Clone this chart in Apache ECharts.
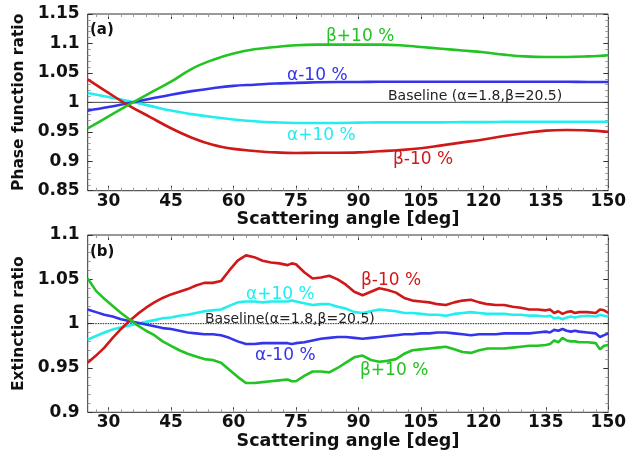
<!DOCTYPE html>
<html>
<head>
<meta charset="utf-8">
<script src="https://cdn.jsdelivr.net/npm/echarts@6/dist/echarts.min.js"></script>
<style>html,body{margin:0;padding:0;background:#fff;}#chart{width:638px;height:454px;}</style>
</head>
<body>
<div id="chart"></div>
<script>
// ---------- Data ----------
const xMajorTicks = [30, 45, 60, 75, 90, 105, 120, 135, 150];
const xMinorTicks = [27, 30, 33, 36, 39, 42, 45, 48, 51, 54, 57, 60, 63, 66, 69, 72, 75, 78, 81, 84, 87, 90, 93, 96, 99, 102, 105, 108, 111, 114, 117, 120, 123, 126, 129, 132, 135, 138, 141, 144, 147, 150];

// Panel (a): phase function ratio
const anglesA = [25, 30, 35, 40, 45, 50, 55, 60, 65, 70, 75, 80, 85, 90, 95, 100, 105, 110, 115, 120, 125, 130, 135, 140, 145, 150];
const phaseBetaPlus   = [0.956, 0.976, 0.9965, 1.016, 1.035, 1.057, 1.072, 1.083, 1.090, 1.094, 1.097, 1.098, 1.098, 1.098, 1.098, 1.097, 1.094, 1.091, 1.088, 1.085, 1.081, 1.078, 1.077, 1.077, 1.078, 1.080];
const phaseAlphaMinus = [0.986, 0.992, 0.999, 1.006, 1.013, 1.019, 1.024, 1.028, 1.030, 1.032, 1.033, 1.034, 1.0345, 1.0345, 1.035, 1.035, 1.035, 1.035, 1.035, 1.035, 1.035, 1.035, 1.035, 1.035, 1.0345, 1.0345];
const phaseAlphaPlus  = [1.016, 1.009, 1.002, 0.994, 0.986, 0.980, 0.975, 0.971, 0.968, 0.966, 0.965, 0.965, 0.965, 0.9655, 0.966, 0.966, 0.966, 0.966, 0.9665, 0.9665, 0.967, 0.967, 0.967, 0.967, 0.967, 0.967];
const phaseBetaMinus  = [1.039, 1.016, 0.994, 0.975, 0.956, 0.940, 0.928, 0.921, 0.9175, 0.915, 0.914, 0.9145, 0.9145, 0.915, 0.917, 0.919, 0.922, 0.927, 0.932, 0.937, 0.943, 0.948, 0.952, 0.953, 0.9525, 0.950];

// Panel (b): extinction ratio
const anglesB = [25, 27, 29, 31, 33, 35, 37, 39, 41, 43, 45, 47, 49, 51, 53, 55, 57, 59, 61, 63, 65, 67, 69, 71, 73, 74, 75, 77, 79, 81, 83, 85, 87, 89, 91, 93, 95, 97, 99, 101, 103, 105, 107, 109, 111, 113, 115, 117, 119, 121, 123, 125, 127, 129, 131, 133, 135, 136, 137, 138, 139, 140, 141, 142, 143, 145, 147, 148, 149, 150];
const extBetaMinus  = [0.956, 0.964, 0.973, 0.984, 0.994, 1.003, 1.011, 1.018, 1.024, 1.029, 1.033, 1.036, 1.039, 1.043, 1.046, 1.046, 1.048, 1.060, 1.071, 1.077, 1.075, 1.071, 1.069, 1.068, 1.066, 1.068, 1.067, 1.058, 1.051, 1.052, 1.054, 1.050, 1.044, 1.036, 1.032, 1.036, 1.040, 1.038, 1.035, 1.029, 1.026, 1.025, 1.024, 1.022, 1.021, 1.024, 1.026, 1.027, 1.024, 1.022, 1.021, 1.021, 1.019, 1.018, 1.016, 1.016, 1.015, 1.016, 1.012, 1.014, 1.011, 1.013, 1.014, 1.012, 1.013, 1.013, 1.012, 1.016, 1.015, 1.012];
const extAlphaPlus  = [0.982, 0.986, 0.990, 0.9935, 0.996, 0.998, 1.000, 1.002, 1.004, 1.006, 1.007, 1.009, 1.010, 1.012, 1.014, 1.015, 1.016, 1.020, 1.024, 1.025, 1.025, 1.024, 1.025, 1.025, 1.025, 1.026, 1.025, 1.023, 1.021, 1.022, 1.022, 1.019, 1.017, 1.013, 1.012, 1.014, 1.016, 1.015, 1.014, 1.012, 1.012, 1.011, 1.010, 1.010, 1.009, 1.011, 1.012, 1.013, 1.012, 1.011, 1.011, 1.011, 1.010, 1.010, 1.009, 1.009, 1.008, 1.009, 1.006, 1.007, 1.005, 1.007, 1.008, 1.007, 1.008, 1.009, 1.008, 1.010, 1.009, 1.008];
const extAlphaMinus = [1.016, 1.013, 1.010, 1.008, 1.005, 1.003, 1.001, 0.999, 0.997, 0.995, 0.994, 0.992, 0.990, 0.989, 0.988, 0.988, 0.987, 0.984, 0.980, 0.977, 0.977, 0.978, 0.978, 0.978, 0.978, 0.977, 0.978, 0.979, 0.981, 0.983, 0.984, 0.985, 0.985, 0.984, 0.983, 0.984, 0.985, 0.986, 0.987, 0.988, 0.988, 0.989, 0.989, 0.990, 0.990, 0.989, 0.988, 0.987, 0.988, 0.988, 0.988, 0.989, 0.989, 0.989, 0.989, 0.990, 0.991, 0.990, 0.993, 0.992, 0.994, 0.992, 0.991, 0.992, 0.991, 0.990, 0.989, 0.985, 0.987, 0.989];
const extBetaPlus   = [1.051, 1.037, 1.028, 1.020, 1.012, 1.005, 0.998, 0.992, 0.987, 0.980, 0.975, 0.970, 0.966, 0.963, 0.960, 0.959, 0.956, 0.948, 0.940, 0.933, 0.933, 0.934, 0.935, 0.936, 0.937, 0.935, 0.935, 0.941, 0.946, 0.946, 0.945, 0.950, 0.956, 0.962, 0.964, 0.959, 0.957, 0.958, 0.960, 0.966, 0.970, 0.971, 0.972, 0.973, 0.974, 0.971, 0.968, 0.967, 0.970, 0.972, 0.972, 0.972, 0.973, 0.974, 0.975, 0.975, 0.976, 0.977, 0.981, 0.979, 0.984, 0.981, 0.980, 0.980, 0.979, 0.979, 0.978, 0.971, 0.975, 0.976];

const baselineX = [25, 150];
const baselineY = [1, 1];

// ---------- Styles ----------
const GREEN = '#22c322', BLUE = '#3434ec', CYAN = '#22eeee', RED = '#cf1818';
const FF = '"DejaVu Sans", "Liberation Sans", sans-serif';

function pairs(xs, ys) { return xs.map((x, i) => [x, ys[i]]); }

const chart = echarts.init(document.getElementById('chart'), null, { renderer: 'canvas' });

const grids = [
  { left: 87.7, top: 14, width: 520.6, height: 176.7, show: true, borderColor: '#333', borderWidth: 1, backgroundColor: 'transparent', outerBoundsMode: 'none', containLabel: false },
  { left: 87.7, top: 235, width: 520.6, height: 177.3, show: true, borderColor: '#333', borderWidth: 1, backgroundColor: 'transparent', outerBoundsMode: 'none', containLabel: false }
];

function xAxesFor(g) {
  const base = { type: 'value', gridIndex: g, min: 25, max: 150, splitLine: { show: false }, axisLine: { show: false } };
  return [
    Object.assign({}, base, {
      position: 'bottom',
      name: 'Scattering angle [deg]', nameLocation: 'middle', nameGap: 14,
      nameTextStyle: { fontFamily: FF, fontWeight: 'bold', fontSize: 17.5, color: '#111', verticalAlign: 'top' },
      axisTick: { show: true, inside: true, length: 5, customValues: xMajorTicks, lineStyle: { color: '#333', width: 1 } },
      axisLabel: { show: true, customValues: xMajorTicks, margin: 2, fontFamily: FF, fontWeight: 'bold', fontSize: 17, color: '#111' }
    }),
    Object.assign({}, base, {
      position: 'bottom',
      axisTick: { show: true, inside: true, length: 3, customValues: xMinorTicks, lineStyle: { color: '#999', width: 1 } },
      axisLabel: { show: false }
    }),
    Object.assign({}, base, {
      position: 'top',
      axisTick: { show: true, inside: true, length: 5, customValues: xMajorTicks, lineStyle: { color: '#333', width: 1 } },
      axisLabel: { show: false }
    }),
    Object.assign({}, base, {
      position: 'top',
      axisTick: { show: true, inside: true, length: 3, customValues: xMinorTicks, lineStyle: { color: '#999', width: 1 } },
      axisLabel: { show: false }
    })
  ];
}

function yAxesFor(g, min, max, name) {
  const base = {
    type: 'value', gridIndex: g, min: min, max: max, interval: 0.05,
    splitLine: { show: false }, axisLine: { show: false },
    axisTick: { show: true, inside: true, length: 5, lineStyle: { color: '#333', width: 1 } },
    minorTick: { show: true, splitNumber: 5, length: 3, lineStyle: { color: '#999', width: 1 } },
    minorSplitLine: { show: false }
  };
  return [
    Object.assign({}, base, {
      position: 'left',
      name: name, nameLocation: 'middle', nameGap: 53, nameRotate: 90,
      nameTextStyle: { fontFamily: FF, fontWeight: 'bold', fontSize: 15.5, color: '#111' },
      axisLabel: { show: true, margin: 8, fontFamily: FF, fontWeight: 'bold', fontSize: 17, color: '#111' }
    }),
    Object.assign({}, base, {
      position: 'right',
      axisLabel: { show: false }
    })
  ];
}

function lineSeries(xi, yi, data, color, smooth) {
  return {
    type: 'line', xAxisIndex: xi, yAxisIndex: yi, data: data, smooth: smooth,
    showSymbol: false, symbol: 'none', clip: true, animation: false,
    lineStyle: { color: color, width: 2.6 }, z: 3
  };
}

function txt(x, y, text, color, size, weight) {
  return {
    type: 'text', x: x, y: y, z: 100,
    style: { text: text, fill: color, font: (weight || 'normal') + ' ' + size + 'px ' + FF, textAlign: 'left', textVerticalAlign: 'middle' }
  };
}

const option = {
  animation: false,
  backgroundColor: '#fff',
  textStyle: { fontFamily: FF },
  grid: grids,
  xAxis: xAxesFor(0).concat(xAxesFor(1)),
  yAxis: yAxesFor(0, 0.85, 1.15, 'Phase function ratio').concat(yAxesFor(1, 0.9, 1.1, 'Extinction ratio')),
  series: [
    { type: 'line', xAxisIndex: 0, yAxisIndex: 0, data: pairs(baselineX, baselineY), showSymbol: false, symbol: 'none', lineStyle: { color: '#444', width: 1 }, z: 2 },
    lineSeries(0, 0, pairs(anglesA, phaseAlphaPlus), CYAN, 0.4),
    lineSeries(0, 0, pairs(anglesA, phaseAlphaMinus), BLUE, 0.4),
    lineSeries(0, 0, pairs(anglesA, phaseBetaMinus), RED, 0.4),
    lineSeries(0, 0, pairs(anglesA, phaseBetaPlus), GREEN, 0.4),

    { type: 'line', xAxisIndex: 4, yAxisIndex: 2, data: pairs(baselineX, baselineY), showSymbol: false, symbol: 'none', lineStyle: { color: '#222', width: 1, type: [1.5, 1] }, z: 2 },
    lineSeries(4, 2, pairs(anglesB, extAlphaPlus), CYAN, false),
    lineSeries(4, 2, pairs(anglesB, extAlphaMinus), BLUE, false),
    lineSeries(4, 2, pairs(anglesB, extBetaMinus), RED, false),
    lineSeries(4, 2, pairs(anglesB, extBetaPlus), GREEN, false)
  ],
  graphic: [
    txt(90, 30, '(a)', '#111', 15, 'bold'),
    txt(326, 37, 'β+10 %', GREEN, 17),
    txt(287, 75.5, 'α-10 %', BLUE, 17),
    txt(388, 96.5, 'Baseline (α=1.8,β=20.5)', '#222', 14),
    txt(287, 136, 'α+10 %', CYAN, 17),
    txt(393, 160, 'β-10 %', RED, 17),

    txt(90, 252, '(b)', '#111', 15, 'bold'),
    txt(361, 281, 'β-10 %', RED, 17),
    txt(246, 294.5, 'α+10 %', CYAN, 17),
    txt(205, 319.5, 'Baseline(α=1.8,β=20.5)', '#222', 14),
    txt(255, 356, 'α-10 %', BLUE, 17),
    txt(360, 371, 'β+10 %', GREEN, 17)
  ]
};

chart.setOption(option);
</script>
</body>
</html>
